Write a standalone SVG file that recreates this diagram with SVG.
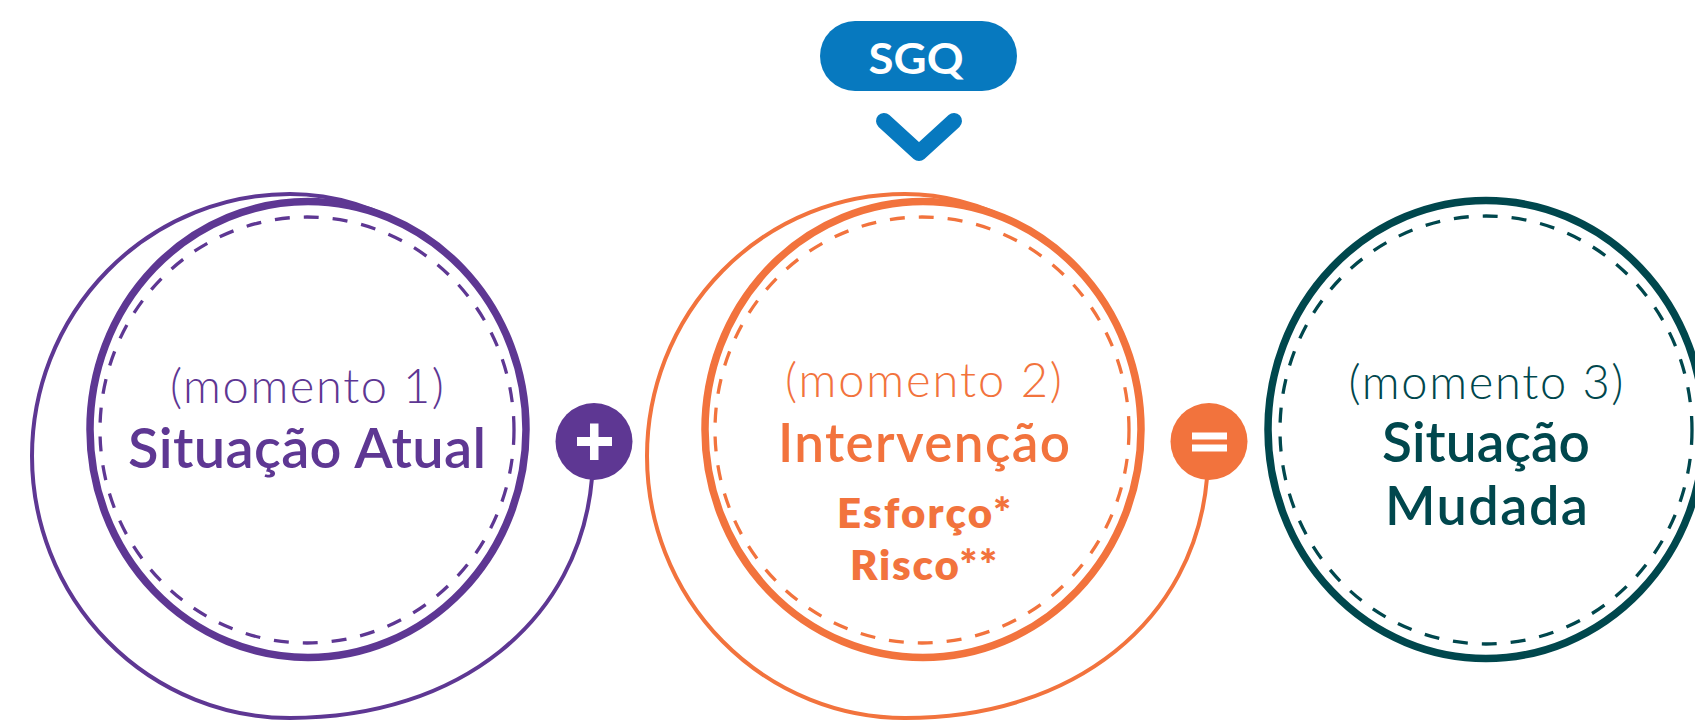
<svg xmlns="http://www.w3.org/2000/svg" width="1695" height="721" viewBox="0 0 1695 721">
<style>
.ring{fill:none;stroke-width:7.5}
.dash{fill:none;stroke-width:3.3;stroke-dasharray:15 14}
.spiral{fill:none;stroke-width:4}
.lt{font-family:Lato,"Open Sans","Liberation Sans",sans-serif;font-weight:300;font-size:47px;text-anchor:middle}
.hd{font-family:Lato,"Open Sans","Liberation Sans",sans-serif;font-weight:600;text-anchor:middle}
.hv{font-family:Lato,"Open Sans","Liberation Sans",sans-serif;font-weight:800;font-size:42px;text-anchor:middle}
.purple{stroke:#5e3793}
.orange{stroke:#f2733d}
.teal{stroke:#00474d}
</style>
<rect width="1695" height="721" fill="#ffffff"/>
<g id="connectors">
  <path class="spiral purple" d="M 420,234 C 377.6,207.4 335,194 290,194 A 258 262 0 0 0 32,456 A 258 262 0 0 0 290,718 C 460,718 580,620 592,478"/>
  <path class="spiral orange" d="M 1035,234 C 992.6,207.4 950,194 905,194 A 258 262 0 0 0 647,456 A 258 262 0 0 0 905,718 C 1075,718 1195,620 1207,478"/>
  <polyline points="884,121 919,153 954,121" fill="none" stroke="#0779bf" stroke-width="16" stroke-linecap="round" stroke-linejoin="round"/>
</g>
<g id="sgq">
  <rect x="820" y="21" width="197" height="70" rx="35" fill="#0779bf"/>
  <text x="916" y="74" font-family="Lato,'Open Sans','Liberation Sans',sans-serif" font-weight="700" font-size="42" fill="#ffffff" text-anchor="middle" textLength="95" lengthAdjust="spacingAndGlyphs">SGQ</text>
</g>
<g id="momento1">
  <ellipse class="ring purple" cx="308" cy="429.5" rx="218" ry="228"/>
  <ellipse class="dash purple" cx="307" cy="430" rx="207" ry="213"/>
  <text class="lt" x="307" y="403" fill="#5e3793" textLength="274">(momento 1)</text>
  <text class="hd" x="307" y="468" font-size="56" fill="#5e3793" textLength="358">Situação Atual</text>
</g>
<g id="plus">
  <circle cx="594" cy="441.5" r="38.5" fill="#5e3793"/>
  <rect x="577" y="437" width="35" height="9" fill="#ffffff"/>
  <rect x="590" y="423.5" width="8.5" height="36.5" fill="#ffffff"/>
</g>
<g id="momento2">
  <ellipse class="ring orange" cx="923" cy="429.5" rx="218" ry="228"/>
  <ellipse class="dash orange" cx="922" cy="430" rx="207" ry="213"/>
  <text class="lt" x="923.5" y="397" fill="#f2733d" textLength="277">(momento 2)</text>
  <text class="hd" x="924" y="462" font-size="53" fill="#f2733d" textLength="292">Intervenção</text>
  <text class="hv" x="924" y="528" fill="#f2733d" textLength="174">Esforço*</text>
  <text class="hv" x="923.5" y="580" fill="#f2733d" textLength="147">Risco**</text>
</g>
<g id="equals">
  <circle cx="1209" cy="441.5" r="38.5" fill="#f2733d"/>
  <rect x="1192" y="432.5" width="35" height="7" fill="#ffffff"/>
  <rect x="1192" y="444.5" width="35" height="7" fill="#ffffff"/>
</g>
<g id="momento3">
  <ellipse class="ring teal" cx="1486" cy="429.5" rx="218" ry="229"/>
  <ellipse class="dash teal" cx="1486" cy="430" rx="206" ry="214"/>
  <text class="lt" x="1486" y="398.5" fill="#00474d" textLength="275">(momento 3)</text>
  <text class="hd" x="1486" y="461.5" font-size="55" fill="#00474d" textLength="208">Situação</text>
  <text class="hd" x="1486.5" y="525" font-size="54" fill="#00474d" textLength="203">Mudada</text>
</g>
</svg>
